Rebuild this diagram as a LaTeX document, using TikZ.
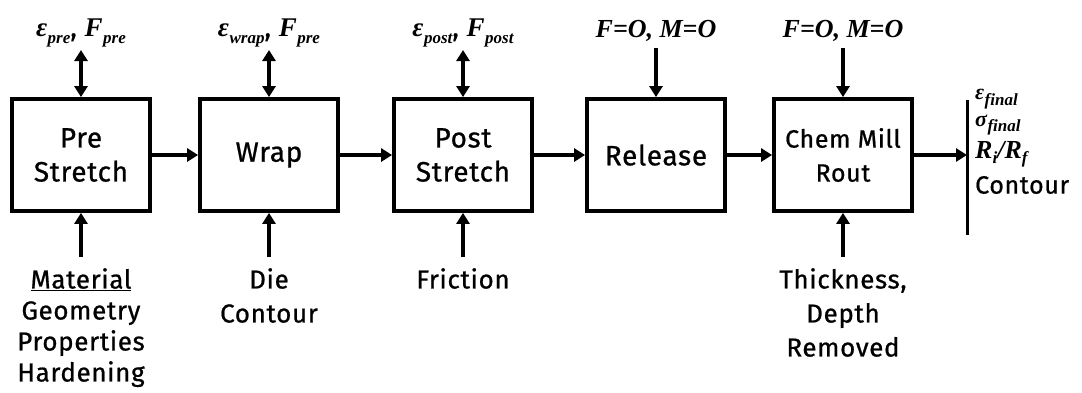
\documentclass[tikz,border=0pt]{standalone}
\usepackage{fontspec}
\setmainfont{Fira Sans}[LetterSpace=2.5,FakeBold=0.8]
\newfontfamily\qtyfont{Liberation Serif}
\usetikzlibrary{arrows.meta}
\newcommand{\vv}[2]{{\qtyfont\bfseries\itshape #1\kern0.5pt\raisebox{-0.25em}{\fontsize{17}{17}\selectfont #2}}}
\begin{document}
\begin{tikzpicture}[x=1pt,y=-1pt,
  stepbox/.style={draw,line width=3.8pt,minimum width=138pt,minimum height=112pt,
    align=center,font=\fontsize{28}{34}\selectfont,inner sep=0pt},
  flow/.style={line width=3.8pt,-{Triangle[length=11pt,width=13pt]}},
  both/.style={line width=3.8pt,{Triangle[length=11pt,width=13pt]}-{Triangle[length=11pt,width=13pt]}},
  toplab/.style={font=\fontsize{27}{27}\selectfont,inner sep=0pt},
  botlab/.style={align=center,font=\fontsize{26}{34}\selectfont,inner sep=0pt,anchor=north},
  outlab/.style={anchor=west,inner sep=0pt}]
\useasboundingbox (0,0) rectangle (1082,392);
% process stages
\node[stepbox] (pre) at (81,155) {Pre\\Stretch};
\node[stepbox] (wrap) at (269,155) {Wrap};
\node[stepbox] (post) at (463,155) {Post\\Stretch};
\node[stepbox] (rel) at (656,155) {Release};
\node[stepbox,font=\fontsize{25}{34}\selectfont] (chem) at (843,155) {Chem Mill\\Rout};
% stage-to-stage flow
\draw[flow] (pre) -- (wrap);
\draw[flow] (wrap) -- (post);
\draw[flow] (post) -- (rel);
\draw[flow] (rel) -- (chem);
% top quantities
\node[toplab] (tpre) at (81,33) {\vv{ε}{pre}, \vv{F}{pre}};
\node[toplab] (twrap) at (269,33) {\vv{ε}{wrap}, \vv{F}{pre}};
\node[toplab] (tpost) at (463,33) {\vv{ε}{post}, \vv{F}{post}};
\node[toplab] (trel) at (656,31) {{\fontsize{26}{26}\selectfont\qtyfont\bfseries\itshape F=O, M=O}};
\node[toplab] (tchem) at (843,31) {{\fontsize{26}{26}\selectfont\qtyfont\bfseries\itshape F=O, M=O}};
\coordinate (apre) at (81,50);
\coordinate (awrap) at (269,50);
\coordinate (apost) at (463,50);
\coordinate (arel) at (656,48);
\coordinate (achem) at (843,48);
\draw[both] (apre) -- (pre.north);
\draw[both] (awrap) -- (wrap.north);
\draw[both] (apost) -- (post.north);
\draw[flow] (arel) -- (rel.north);
\draw[flow] (achem) -- (chem.north);
% bottom inputs
\node[botlab] (bpre) at (81,268) {\underline{Material}\\[-3pt]Geometry\\[-3pt]Properties\\[-3pt]Hardening};
\node[botlab] (bwrap) at (269,268) {Die\\Contour};
\node[botlab] (bpost) at (463,268) {Friction};
\node[botlab] (bchem) at (843,268) {Thickness,\\Depth\\Removed};
\draw[flow] ([yshift=11pt]bpre.north) -- (pre.south);
\draw[flow] ([yshift=11pt]bwrap.north) -- (wrap.south);
\draw[flow] ([yshift=11pt]bpost.north) -- (post.south);
\draw[flow] ([yshift=11pt]bchem.north) -- (chem.south);
% final outputs
\coordinate (bt) at (967,100);
\coordinate (bb) at (967,235);
\coordinate (bm) at (967,155);
\draw[line width=3pt] (bt) -- (bb);
\draw[flow] (chem) -- (bm);
\node[outlab] (oe) at (975,99) {\fontsize{22}{22}\selectfont\vv{ε}{final}};
\node[outlab] (os) at (975,125) {\fontsize{22}{22}\selectfont\vv{σ}{final}};
\node[outlab] (or) at (975,154) {\fontsize{26}{26}\selectfont{\qtyfont\bfseries\itshape R\raisebox{-0.2em}{\fontsize{17}{17}\selectfont i}/R\raisebox{-0.2em}{\fontsize{17}{17}\selectfont f}}};
\node[outlab] (oc) at (975,185) {\fontsize{25}{25}\selectfont Contour};
\end{tikzpicture}
\end{document}
